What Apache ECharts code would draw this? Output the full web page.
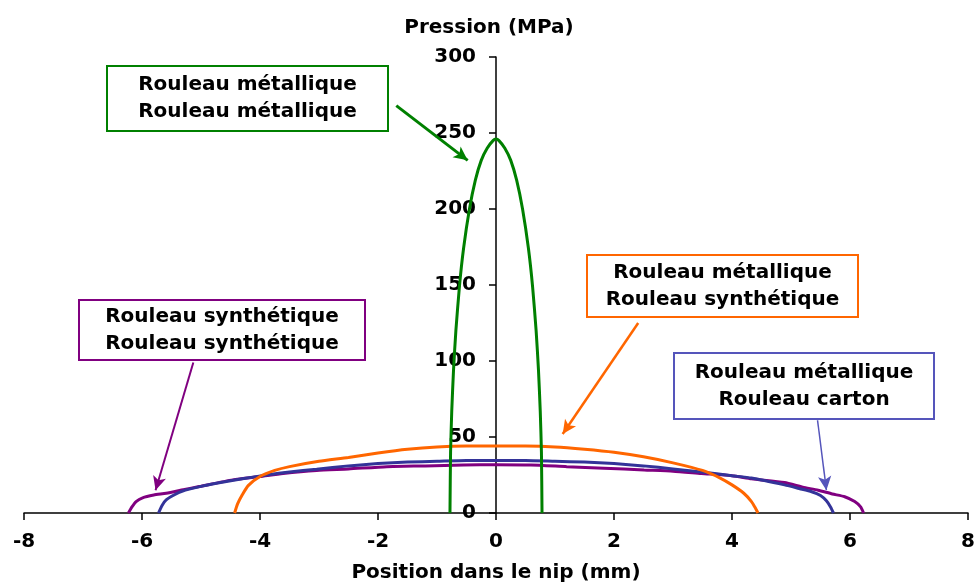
<!DOCTYPE html>
<html>
<head>
<meta charset="utf-8">
<script src="https://cdn.jsdelivr.net/npm/echarts@6/dist/echarts.min.js"></script>
<style>
  html, body { margin: 0; padding: 0; background: #fff; }
  #chart { width: 975px; height: 585px; }
</style>
</head>
<body>
<div id="chart"></div>
<script>
// Pression dans le nip (MPa) en fonction de la position (mm)
const xTicks = [-8, -6, -4, -2, 0, 2, 4, 6, 8];
const yTicks = [0, 50, 100, 150, 200, 250, 300];

// Rouleau métallique / Rouleau métallique
const metMetX = [-0.78, -0.77, -0.75, -0.72, -0.68, -0.62, -0.55, -0.45, -0.35, -0.25, -0.15, -0.05, 0,
  0.05, 0.15, 0.25, 0.35, 0.45, 0.55, 0.62, 0.68, 0.72, 0.75, 0.77, 0.78];
const metMetY = [0, 40, 67, 94, 120, 149, 174, 200, 219, 232, 240, 245, 246,
  245, 240, 232, 219, 200, 174, 149, 120, 94, 67, 40, 0];

// Rouleau métallique / Rouleau synthétique
const metSynX = [-4.43, -4.38, -4.3, -4.2, -4.0, -3.75, -3.5, -3.0, -2.5, -2.0, -1.5, -1.0, -0.5, 0,
  0.5, 1.0, 1.5, 2.0, 2.5, 3.0, 3.5, 3.8, 4.0, 4.2, 4.33, 4.4, 4.44];
const metSynY = [0, 6, 12, 18, 24, 28, 30.5, 34, 36.5, 39.5, 42, 43.5, 44, 44,
  44, 43.5, 42, 40, 37, 33, 28, 23, 18.5, 13, 7.5, 3, 0];

// Rouleau métallique / Rouleau carton
const metCarX = [-5.72, -5.66, -5.59, -5.45, -5.31, -5.0, -4.74, -4.3, -3.89, -3.5, -3.04, -2.5, -2.0, -1.5, -1.0, -0.5, 0,
  0.5, 1.0, 1.5, 2.0, 2.5, 3.0, 3.48, 4.0, 4.33, 4.89, 5.15, 5.35, 5.5, 5.6, 5.67, 5.72];
const metCarY = [0, 5, 8.6, 12, 14.5, 17.5, 19.6, 22.5, 25, 27, 28.8, 31, 32.5, 33.5, 34, 34.5, 34.5,
  34.5, 34, 33.5, 32.5, 31, 29, 27, 24.5, 23, 18.5, 16, 14, 11.5, 8, 4, 0];

// Rouleau synthétique / Rouleau synthétique
const synSynX = [-6.23, -6.17, -6.1, -5.99, -5.8, -5.59, -5.3, -5.03, -4.46, -4.0, -3.61, -3.04, -2.5, -1.85, -1.2, -0.55, 0,
  0.59, 1.2, 1.83, 2.51, 3.0, 3.48, 4.0, 4.33, 4.89, 5.2, 5.46, 5.7, 5.91, 6.08, 6.18, 6.23];
const synSynY = [0, 4, 7.5, 10, 11.8, 13, 15.3, 17.4, 21.8, 24, 26, 28, 29, 30.5, 31, 31.6, 31.8,
  31.6, 30.5, 29.5, 28.3, 27.5, 26, 24.5, 22.5, 20, 17, 15, 12.5, 10.7, 7.5, 4, 0];

const zip = (xs, ys) => xs.map((x, i) => [x, ys[i]]);

const FONT = 'DejaVu Sans';
const GREEN = '#008000';
const ORANGE = '#FF6600';
const BLUE = '#333399';
const PURPLE = '#800080';

const GRID_LEFT = 24;
const GRID_RIGHT = 7;
const PLOT_W = 975 - GRID_LEFT - GRID_RIGHT;

function arrow(from, to, color, width) {
  return {
    silent: true,
    symbol: ['none', 'arrow'],
    symbolSize: [10, 14],
    label: { show: false },
    lineStyle: { color: color, width: width, type: 'solid' },
    data: [[{ coord: from }, { coord: to }]],
  };
}

function lineSeries(name, xs, ys, color, markLine) {
  return {
    name: name,
    type: 'line',
    data: zip(xs, ys),
    showSymbol: false,
    smooth: 0.2,
    lineStyle: { color: color, width: 3 },
    itemStyle: { color: color },
    markLine: markLine,
    animation: false,
  };
}

function labelBox(x, y, w, h, color, text) {
  return [
    {
      type: 'rect',
      shape: { x: x, y: y, width: w, height: h },
      style: { fill: '#fff', stroke: color, lineWidth: 2 },
      z: 10,
    },
    {
      type: 'text',
      x: x + w / 2,
      y: y + h / 2,
      style: {
        text: text,
        font: 'bold 20px "' + FONT + '"',
        fill: '#000',
        align: 'center',
        verticalAlign: 'middle',
        lineHeight: 27,
      },
      z: 11,
    },
  ];
}

const chart = echarts.init(document.getElementById('chart'));
chart.setOption({
  animation: false,
  grid: {
    left: GRID_LEFT, right: GRID_RIGHT, top: 57, bottom: 72,
    containLabel: false, outerBoundsMode: 'none',
  },
  xAxis: {
    type: 'value',
    min: xTicks[0],
    max: xTicks[xTicks.length - 1],
    interval: 2,
    name: 'Position dans le nip (mm)',
    nameLocation: 'middle',
    nameGap: 50,
    nameTextStyle: { fontFamily: FONT, fontWeight: 'bold', fontSize: 20, color: '#000' },
    axisLine: { onZero: false, lineStyle: { color: '#000', width: 1.5 } },
    axisTick: { show: true, length: 7, lineStyle: { color: '#000', width: 1.5 } },
    axisLabel: {
      margin: 19, fontFamily: FONT, fontWeight: 'bold', fontSize: 20, color: '#000',
      formatter: (v) => String(v),
    },
    splitLine: { show: false },
  },
  yAxis: {
    type: 'value',
    position: 'left',
    // place the axis where x = 0
    offset: -PLOT_W * (0 - xTicks[0]) / (xTicks[xTicks.length - 1] - xTicks[0]),
    min: yTicks[0],
    max: yTicks[yTicks.length - 1],
    interval: 50,
    axisLine: { show: true, onZero: false, lineStyle: { color: '#000', width: 1.5 } },
    axisTick: { show: true, length: 7, lineStyle: { color: '#000', width: 1.5 } },
    axisLabel: { margin: 20, fontFamily: FONT, fontWeight: 'bold', fontSize: 20, color: '#000' },
    splitLine: { show: false },
  },
  series: [
    lineSeries('Rouleau synthétique / Rouleau synthétique', synSynX, synSynY, PURPLE,
      arrow([-5.13, 99], [-5.77, 15], PURPLE, 2)),
    lineSeries('Rouleau métallique / Rouleau carton', metCarX, metCarY, BLUE,
      arrow([5.45, 61], [5.6, 15], '#5555bb', 1.5)),
    lineSeries('Rouleau métallique / Rouleau synthétique', metSynX, metSynY, ORANGE,
      arrow([2.41, 125], [1.13, 52], ORANGE, 2.5)),
    lineSeries('Rouleau métallique / Rouleau métallique', metMetX, metMetY, GREEN,
      arrow([-1.69, 268], [-0.48, 232], GREEN, 3)),
  ],
  graphic: [
    {
      type: 'text',
      x: 489,
      y: 28,
      style: {
        text: 'Pression (MPa)',
        font: 'bold 20px "' + FONT + '"',
        fill: '#000',
        align: 'center',
        verticalAlign: 'middle',
      },
    },
    ...labelBox(107, 66, 281, 65, GREEN, 'Rouleau métallique\nRouleau métallique'),
    ...labelBox(587, 255, 271, 62, ORANGE, 'Rouleau métallique\nRouleau synthétique'),
    ...labelBox(79, 300, 286, 60, PURPLE, 'Rouleau synthétique\nRouleau synthétique'),
    ...labelBox(674, 353, 260, 66, '#5555bb', 'Rouleau métallique\nRouleau carton'),
  ],
});
</script>
</body>
</html>
